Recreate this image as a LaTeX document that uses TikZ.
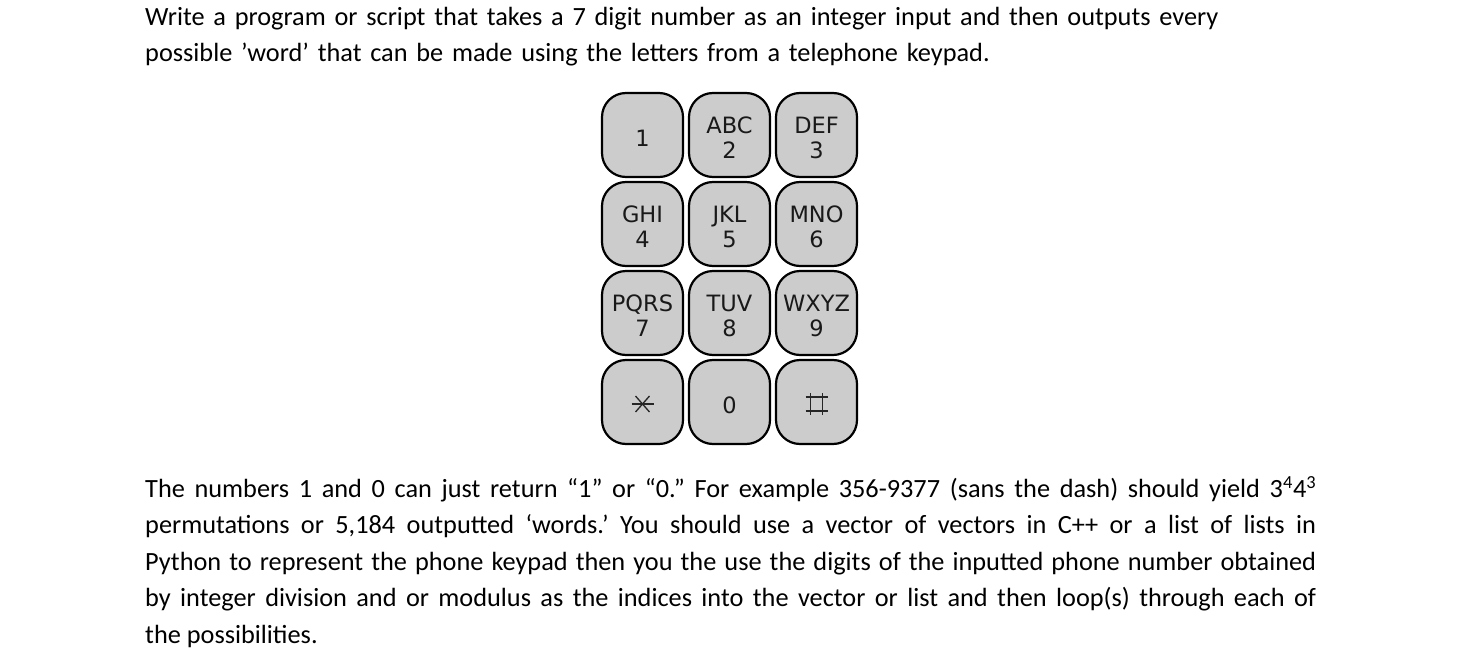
\documentclass[tikz,border=0pt]{standalone}
\usepackage{fontspec}
\setmainfont{Carlito}
\newfontfamily\keyfont{DejaVu Sans}
\frenchspacing
\begin{document}
\begin{tikzpicture}[x=1pt,y=-1pt,
  keybox/.style={draw=black,line width=2.2pt,fill=black!20,rounded corners=24pt},
  keytxt/.style={font=\keyfont\fontsize{22.5}{25}\selectfont,align=center,inner sep=0pt,text=black!90}]
\useasboundingbox (0,0) rectangle (1464,661);
\node[anchor=north west,inner sep=0pt,text width=1250pt,font=\fontsize{26.3}{36}\selectfont] (top) at (145,7)
 {Write a program or script that takes a 7 digit number as an integer input and then outputs every\\
 possible ’word’ that can be made using the letters from a telephone keypad.};
\foreach \c/\r/\t [count=\i] in {0/0/1, 1/0/{ABC\\2}, 2/0/{DEF\\3}, 0/1/{GHI\\4}, 1/1/{JKL\\5}, 2/1/{MNO\\6}, 0/2/{PQRS\\7}, 1/2/{TUV\\8}, 2/2/{WXYZ\\9}, 0/3/{}, 1/3/0, 2/3/{}}{
  \draw[keybox] ({602+87*\c},{93+89*\r}) rectangle ++(81,84);
  \node[keytxt] (k\i) at ({642.5+87*\c},{138+89*\r}) {\t};
}
% star
\begin{scope}[shift={(642.5,404)},line width=1.3pt,draw=black!85]
\draw (-11,0) -- (11,0);
\draw (-7,-8) -- (7,8);
\draw (-7,8) -- (7,-8);
\end{scope}
% hash
\begin{scope}[shift={(816.5,404)},line width=1.6pt,draw=black!85]
\draw (-6,-11) -- (-6,11); \draw (6,-11) -- (6,11);
\draw (-11,-7) -- (11,-7); \draw (-11,7) -- (11,7);
\end{scope}
\node[anchor=north west,inner sep=0pt,text width=1171pt,align=justify,font=\fontsize{26.3}{36.5}\selectfont] (para) at (145,476)
 {The numbers 1 and 0 can just return “1” or “0.” For example 356-9377 (sans the dash) should yield 3\textsuperscript{4}4\textsuperscript{3}\linebreak
 permutations or 5,184 outputted ‘words.’ You should use a vector of vectors in C++ or a list of lists in\linebreak
 Python to represent the phone keypad then you the use the digits of the inputted phone number obtained\linebreak
 by integer division and or modulus as the indices into the vector or list and then loop(s) through each of\linebreak
 the possibilities.\par};
\end{tikzpicture}
\end{document}
